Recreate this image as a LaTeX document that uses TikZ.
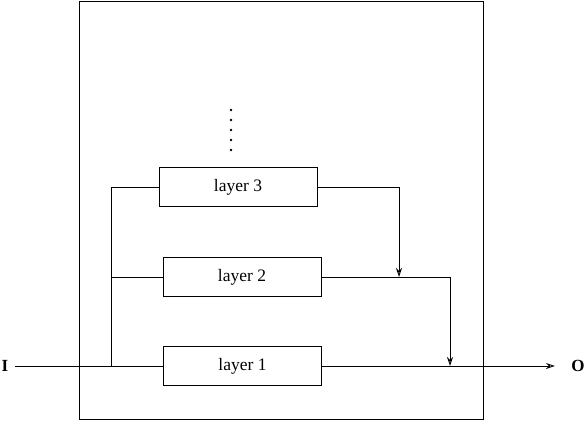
\documentclass[tikz,border=0pt]{standalone}
\usepackage{fontspec}
\setmainfont{Liberation Serif}
\usetikzlibrary{arrows.meta}
\begin{document}
\begin{tikzpicture}[x=1pt,y=-1pt,
  line width=0.9pt,
  font=\fontsize{17.5}{20}\selectfont,
  layerbox/.style={draw, rectangle, minimum width=158pt, minimum height=39pt, inner sep=0pt},
  arr/.style={-{Stealth[open, length=9pt, width=6pt, inset=3pt]}},
  lbl/.style={inner sep=0pt, font=\fontsize{17}{20}\selectfont\bfseries}]
\useasboundingbox (0,0) rectangle (585,420);
% outer frame
\node[draw, rectangle, minimum width=404pt, minimum height=418pt, inner sep=0pt] (frame) at (281,210) {};
% layers
\node[layerbox] (l3) at (238,187) {layer 3};
\node[layerbox] (l2) at (242,277) {layer 2};
\node[layerbox] (l1) at (242.5,366) {layer 1};
% labels
\node[lbl] (I) at (5,366) {I};
\node[lbl] (O) at (578,366) {O};
% coordinates
\coordinate (b1) at (111,366);
\coordinate (b2) at (111,277);
\coordinate (b3) at (111,187);
\coordinate (m2) at (399,277);
\coordinate (m1) at (450,366);
\coordinate (Iin) at (15,366);
% input and bus
\draw (Iin) -- (l1.west);
\draw (b3) -- (b1);
\draw (b3) -- (l3.west);
\draw (b2) -- (l2.west);
% outputs
\draw[arr] (l3.east) -| (m2);
\draw (l2.east) -- (m2);
\draw[arr] (m2) -| (m1);
\draw (m1) -- (l1.east);
\draw[arr] (l1.east) -- ([xshift=-16pt]O.west);
% dots
\foreach \yy in {110,120,130,140,150}
  \fill (231,\yy) circle (1.3pt);
\end{tikzpicture}
\end{document}
